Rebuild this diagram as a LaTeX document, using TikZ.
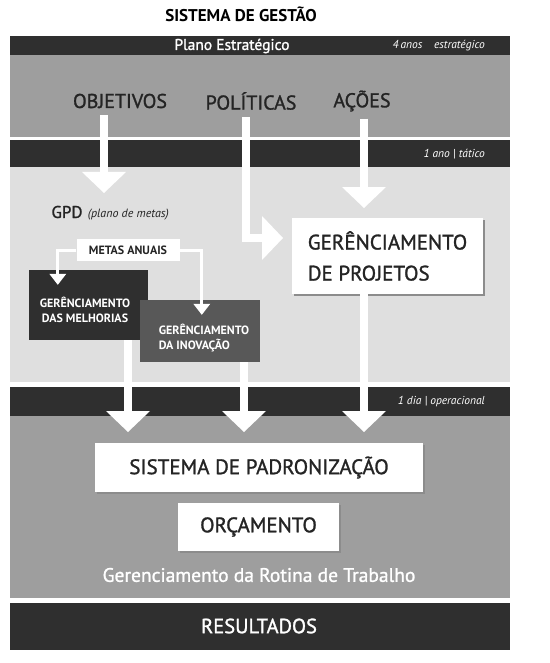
\documentclass[tikz,border=0pt]{standalone}
\usepackage{fontspec}
\setmainfont{PT Sans}
\newfontfamily\medfont{PT Sans}[FakeBold=1.3]
\usetikzlibrary{arrows.meta, positioning, calc, shadows}
\definecolor{darkband}{RGB}{47, 47, 47}
\definecolor{midgray}{RGB}{158, 158, 158}
\definecolor{palegray}{RGB}{223, 223, 223}
\definecolor{innogray}{RGB}{88, 88, 88}
\definecolor{boxtext}{RGB}{36, 36, 36}

\begin{document}
\begin{tikzpicture}[x=1pt, y=-1pt,
    heading/.style={font=\medfont\fontsize{20}{22}\selectfont, text=boxtext, inner sep=0pt},
    ribbon/.style={font=\itshape\fontsize{11.5}{13}\selectfont, text=white, anchor=east, inner sep=0pt},
    whitebox/.style={fill=white, text=boxtext, inner sep=0pt,
                     drop shadow={shadow xshift=1.5pt, shadow yshift=-1.5pt, fill=black!45, opacity=1}},
    teambox/.style={text=white, inner sep=0pt},
    teamtext/.style={text=white, inner sep=0pt, font=\bfseries\fontsize{12}{15}\selectfont},
    bigarrow/.style={white, line width=8pt, -{Triangle[length=21pt, width=44pt, line width=0pt]}},
    thinarrow/.style={white, line width=3pt, -{Triangle[length=11pt, width=17pt, line width=0pt]}}
]
    \useasboundingbox (0,0) rectangle (549,663);
    % faixas de fundo
    \fill[darkband] (10,36) rectangle (510,55);
    \fill[midgray] (10,55) rectangle (510,137);
    \fill[darkband] (10,140) rectangle (510,167);
    \fill[palegray] (10,167) rectangle (510,382);
    \fill[darkband] (10,387) rectangle (510,416);
    \fill[midgray] (10,416) rectangle (510,598);
    \fill[darkband] (10,603) rectangle (510,650);

    \node[font=\bfseries\fontsize{17}{19}\selectfont] (title) at (241,14) {SISTEMA DE GESTÃO};
    \node[text=white, font=\medfont\fontsize{15.5}{17}\selectfont] (plano) at (232,46) {Plano Estratégico};
    \node[ribbon] (horiz4) at (485,46) {4\,anos\quad estratégico};
    \node[ribbon] (horiz1) at (485,154) {1 ano | tático};
    \node[ribbon] (horizd) at (485,402) {1 dia | operacional};

    % plano estrategico
    \node[heading] (obj) at (120,101) {OBJETIVOS};
    \node[heading] (pol) at (251,101) {POLÍTICAS};
    \node[heading] (aco) at (362,101) {AÇÕES};

    \coordinate (objtip) at (104,193);
    \coordinate (poltip) at (283,238);
    \coordinate (acotip) at (364,208);
    \draw[bigarrow] ([yshift=-7pt]obj.south -| objtip) -- (objtip);
    \draw[bigarrow] ([yshift=-7pt]pol.south -| 246,0) |- (poltip);
    \draw[bigarrow] ([yshift=-7pt]aco.south -| acotip) -- (acotip);

    \node[font=\medfont\fontsize{17}{20}\selectfont, text=boxtext, inner sep=0pt] (gpd) at (67,212) {GPD};
    \node[font=\itshape\fontsize{12}{13}\selectfont, text=boxtext, right=5pt of gpd.base east, anchor=base west, inner sep=0pt] (plmetas) {(plano de metas)};

    \node[whitebox, minimum width=191, minimum height=76, align=left,
          font=\medfont\fontsize{21}{31}\selectfont] (proj) at (387.5,256)
        {GERÊNCIAMENTO\\DE PROJETOS};

    % metas anuais
    \node[fill=white, text=boxtext, minimum width=103, minimum height=22, inner sep=0pt,
          font=\bfseries\fontsize{12}{14}\selectfont] (metas) at (128,250) {METAS ANUAIS};
    \node[teambox, fill=darkband, minimum width=119, minimum height=70] (melh) at (88.5,305) {};
    \node[teamtext, align=center] (melhtxt) at (85,310) {GERÊNCIAMENTO\\DAS MELHORIAS};
    \node[teambox, fill=innogray, minimum width=120, minimum height=62] (inno) at (200,331) {};
    \node[teamtext, align=left] (innotxt) at (204,338) {GERÊNCIAMENTO\\DA INOVAÇÃO};
    \draw[thinarrow] (metas.west) -| ($(melh.north west)+(29,15)$);
    \draw[thinarrow] (metas.east) -| ($(inno.north west)+(62,15)$);

    % rotina
    \coordinate (melhtip) at (128,432);
    \coordinate (innotip) at (244,432);
    \coordinate (projtip) at (364,432);
    \draw[bigarrow] (melh.south -| melhtip) -- (melhtip);
    \draw[bigarrow] (inno.south -| innotip) -- (innotip);
    \draw[bigarrow] (proj.south -| projtip) -- (projtip);

    \node[whitebox, minimum width=328, minimum height=49,
          font=\medfont\fontsize{21}{23}\selectfont] (padr) at (259,467.5) {SISTEMA DE PADRONIZAÇÃO};
    \node[whitebox, minimum width=161, minimum height=48,
          font=\medfont\fontsize{21}{23}\selectfont] (orc) at (258.5,527) {ORÇAMENTO};
    \node[text=white, font=\medfont\fontsize{19.5}{21}\selectfont] (rotina) at (259,575) {Gerenciamento da Rotina de Trabalho};
    \node[text=white, font=\medfont\fontsize{20.5}{22}\selectfont] (result) at (259,626) {RESULTADOS};
\end{tikzpicture}
\end{document}
